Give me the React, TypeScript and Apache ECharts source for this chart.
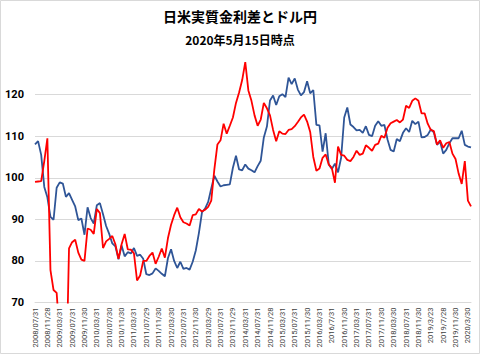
import React, { useEffect, useRef } from "react";
import * as echarts from "echarts";

const titleText = "日米実質金利差とドル円";
const subtitleText = "2020年5月15日時点";

// Labels shown every 4th month on the category axis
const tickLabels = [
  "2008/07/31", "2008/11/28", "2009/03/31", "2009/07/31", "2009/11/30", "2010/03/31",
  "2010/07/30", "2010/11/30", "2011/03/31", "2011/07/29", "2011/11/30", "2012/03/30",
  "2012/07/31", "2012/11/30", "2013/03/29", "2013/07/31", "2013/11/29", "2014/03/31",
  "2014/07/31", "2014/11/28", "2015/03/31", "2015/07/31", "2015/11/30", "2016/03/31",
  "2016/7/31", "2016/11/30", "2017/03/31", "2017/07/31", "2017/11/30", "2018/03/30",
  "2018/07/31", "2018/11/30", "2019/3/23", "2019/7/28", "2019/11/30", "2020/3/30",
];

const yTicks = [70, 80, 90, 100, 110, 120];

// USD/JPY (blue)
const usdJpy = [
  108.0, 108.8, 105.5, 97.8, 95.3, 90.6,
  89.9, 97.6, 98.9, 98.6, 95.4, 96.3, 94.7, 93.1, 89.8, 90.2, 86.3, 92.9,
  90.3, 89.0, 93.4, 93.9, 91.2, 88.4, 86.5, 84.2, 83.5, 80.4, 83.7, 81.1,
  82.1, 81.8, 83.1, 81.2, 81.5, 80.5, 76.8, 76.6, 77.0, 78.2, 77.6, 76.9,
  76.3, 80.7, 82.8, 80.0, 78.3, 79.8, 78.1, 78.3, 77.9, 79.8, 82.5, 86.7,
  91.7, 92.6, 94.2, 97.4, 100.5, 99.1, 97.9, 98.2, 98.3, 98.4, 102.4, 105.3,
  102.0, 101.8, 103.2, 102.2, 101.8, 101.3, 102.8, 104.1, 109.7, 112.3, 118.6, 119.8,
  117.5, 119.6, 120.1, 119.4, 124.1, 122.5, 123.9, 121.2, 119.8, 120.6, 123.2, 120.3,
  121.1, 112.7, 112.6, 106.3, 110.7, 103.2, 102.1, 103.4, 101.3, 104.8, 114.5, 116.9,
  112.8, 112.2, 111.4, 111.5, 110.8, 112.4, 110.3, 110.0, 112.5, 113.6, 112.5, 112.7,
  109.2, 106.7, 106.3, 109.3, 108.8, 110.8, 111.9, 111.0, 113.7, 112.9, 113.5, 109.7,
  109.8, 110.3, 111.6, 110.9, 107.9, 108.7, 105.8, 106.7, 108.3, 109.5, 109.5, 109.5,
  111.3, 107.9, 107.5, 107.3,
];

// Real interest rate differential (red)
const rateDiff = [
  99.0, 99.1, 99.2, 104.0, 109.5, 77.8, 73.0, 72.3, 62.0, 55.0, 48.0, 83.0,
  84.5, 85.1, 82.0, 80.3, 80.0, 87.8, 87.5, 86.5, 92.5, 91.5, 83.1, 84.7, 85.3, 86.0,
  84.0, 80.5, 84.0, 86.5, 82.8, 82.7, 81.8, 75.3, 76.5, 80.0, 80.0, 81.2, 82.0, 79.3, 81.0, 83.0, 80.8, 85.5,
  88.7, 91.0, 92.8, 90.5, 89.3, 89.0, 88.5, 91.0, 91.2, 92.5, 91.9, 92.3, 93.0, 94.5,
  102.0, 108.0, 109.0, 113.0, 110.6, 112.5, 114.5, 118.0, 120.5, 123.5, 127.8, 121.0, 118.5, 115.0, 112.5, 114.0, 118.0, 116.7, 115.0, 111.5,
  108.8, 111.2, 110.6, 110.5, 111.5, 111.7, 112.4, 113.4, 114.5, 115.2, 113.5, 111.0, 105.0, 101.7, 102.2,
  104.8, 105.6, 103.2, 102.3, 98.8, 107.5, 105.5, 105.3, 104.3, 104.0, 105.0, 106.5, 105.5, 105.8,
  107.8, 107.2, 106.5, 107.9, 108.2, 110.1, 109.6, 112.0, 113.1, 113.5, 113.9, 113.3, 114.0, 117.3,
  116.8, 118.5, 119.1, 118.5, 115.5, 115.5, 113.0, 111.5, 111.2, 108.0, 109.0, 107.2, 108.3,
  108.6, 105.8, 104.5, 101.0, 98.5, 104.0, 94.5, 93.1,
];

// Monthly categories from 2008/07; labelled points use the tick label text
const categories: string[] = [];
for (let i = 0; i < usdJpy.length; i++) {
  if (i % 4 === 0 && tickLabels[i / 4]) {
    categories.push(tickLabels[i / 4]);
  } else {
    const m = 6 + i;
    const y = 2008 + Math.floor(m / 12);
    const mo = (m % 12) + 1;
    categories.push(`${y}/${mo < 10 ? "0" + mo : mo}`);
  }
}

export default function App() {
  const ref = useRef<HTMLDivElement>(null);
  useEffect(() => {
    if (!ref.current) return;
    const chart = echarts.init(ref.current, null, { renderer: "svg" });
    const gridColors = yTicks.map(() => "#d9d9d9").concat(["rgba(0,0,0,0)"]);
    chart.setOption({
      animation: false,
      backgroundColor: "#ffffff",
      title: [
        {
          text: titleText,
          left: "center",
          top: 9,
          padding: 0,
          textStyle: {
            fontSize: 14,
            fontWeight: "bold",
            color: "#000000",
            fontFamily: '"Noto Sans CJK JP", sans-serif',
          },
        },
        {
          text: subtitleText,
          left: "center",
          top: 33,
          padding: 0,
          textStyle: {
            fontSize: 12,
            fontWeight: "bold",
            color: "#000000",
            fontFamily: '"Noto Sans CJK JP", sans-serif',
          },
        },
      ],
      graphic: [
        {
          type: "rect",
          shape: { x: 0.5, y: 0.5, width: 479, height: 353 },
          style: { fill: "none", stroke: "#d9d9d9", lineWidth: 1 },
          silent: true,
        },
      ],
      grid: { left: 35, right: 9, top: 53, bottom: 51.5, containLabel: false },
      xAxis: {
        type: "category",
        data: categories,
        boundaryGap: false,
        axisLine: { show: true, lineStyle: { color: "#d9d9d9", width: 1 } },
        axisTick: { show: false },
        splitLine: { show: false },
        axisLabel: {
          interval: 3,
          rotate: 90,
          fontSize: 7.5,
          color: "#404040",
          margin: 5,
          fontFamily: "Roboto, sans-serif",
        },
      },
      yAxis: {
        type: "value",
        min: 70,
        max: 130,
        interval: 10,
        axisLine: { show: false },
        axisTick: { show: false },
        splitLine: { show: true, lineStyle: { color: gridColors, width: 1 } },
        axisLabel: {
          fontSize: 11,
          fontWeight: "bold",
          color: "#000000",
          margin: 11,
          fontFamily: "Roboto, sans-serif",
          formatter: (v: number) => (yTicks.indexOf(v) >= 0 ? String(v) : ""),
        },
      },
      series: [
        {
          name: "ドル円",
          type: "line",
          data: usdJpy,
          showSymbol: false,
          symbol: "none",
          lineStyle: { color: "#2f5597", width: 1.8 },
          itemStyle: { color: "#2f5597" },
          z: 2,
        },
        {
          name: "日米実質金利差",
          type: "line",
          data: rateDiff,
          showSymbol: false,
          symbol: "none",
          lineStyle: { color: "#ff0000", width: 1.8 },
          itemStyle: { color: "#ff0000" },
          z: 3,
        },
      ],
    });
    return () => chart.dispose();
  }, []);
  return (
    <div
      ref={ref}
      style={{ position: "fixed", left: 0, top: 0, width: 480, height: 354 }}
    />
  );
}
